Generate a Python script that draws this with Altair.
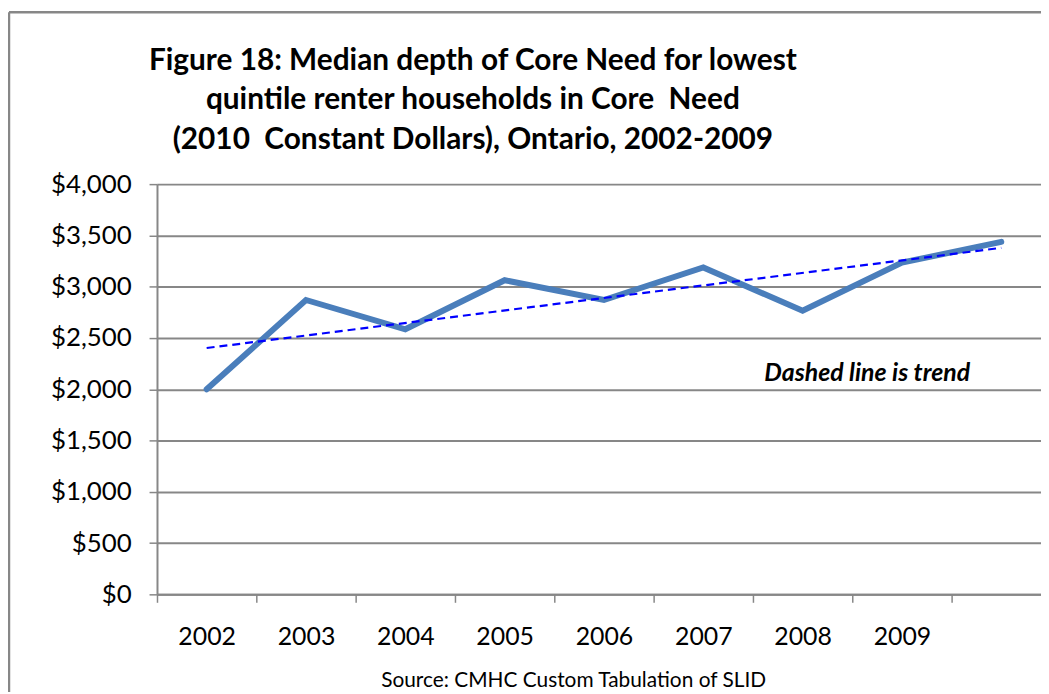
import altair as alt
import pandas as pd

# ---- data ----
years = [2002, 2003, 2004, 2005, 2006, 2007, 2008, 2009, 2010]
depth = [2000, 2870, 2585, 3063, 2870, 3187, 2765, 3234, 3437]
x_tick_values = [2001.5, 2002.5, 2003.5, 2004.5, 2005.5, 2006.5, 2007.5, 2008.5, 2009.5]
y_tick_values = [0, 500, 1000, 1500, 2000, 2500, 3000, 3500, 4000]

title_lines = [
    "Figure 18: Median depth of Core Need for lowest",
    "quintile renter households in Core\u00a0 Need",
    "(2010\u00a0 Constant Dollars), Ontario, 2002-2009",
]
source_text = "Source: CMHC Custom Tabulation of SLID"
note_text = "Dashed line is trend"

df = pd.DataFrame({"year": years, "depth": depth})
one = pd.DataFrame({"k": [0]})

FONT = "Lato"
GRAY = "#878787"

x_enc = alt.X(
    "year:Q",
    scale=alt.Scale(domain=[2001.5, 2010.4], nice=False, zero=False),
    axis=alt.Axis(
        values=x_tick_values,
        labelExpr="datum.value < 2009 ? format(datum.value + 0.5, 'd') : ''",
        labelOffset=50,
        labelOverlap=False,
        labelFlush=False,
        labelFont=FONT,
        labelFontSize=25,
        labelColor="black",
        labelPadding=22,
        tickSize=8,
        tickColor=GRAY,
        tickWidth=1.5,
        domainColor=GRAY,
        domainWidth=2,
        grid=False,
        title=source_text,
        titleFont=FONT,
        titleFontSize=21,
        titleFontWeight="normal",
        titleColor="black",
        titleX=419,
        titleY=93,
        titleAlign="center",
        titleBaseline="alphabetic",
    ),
)

y_enc = alt.Y(
    "depth:Q",
    scale=alt.Scale(domain=[0, 4000], nice=False),
    axis=alt.Axis(
        values=y_tick_values,
        format="$,.0f",
        labelFont=FONT,
        labelFontSize=26,
        labelColor="black",
        labelPadding=18,
        tickSize=8,
        tickColor=GRAY,
        tickWidth=1.5,
        domainColor=GRAY,
        domainWidth=2,
        grid=True,
        gridColor=GRAY,
        gridWidth=2,
        gridOpacity=1,
        title=None,
    ),
)

base = alt.Chart(df)

main_line = base.mark_line(
    color="#4a7ebb", strokeWidth=6, strokeCap="round", strokeJoin="miter"
).encode(x=x_enc, y=y_enc)

trend = base.transform_regression("year", "depth").mark_line(
    color="#0000ff", strokeWidth=2.2, strokeDash=[8, 5]
).encode(x="year:Q", y="depth:Q")

note = alt.Chart(one).mark_text(
    text=note_text,
    font=FONT,
    fontSize=25,
    fontStyle="italic",
    fontWeight="bold",
    align="center",
    baseline="middle",
    color="black",
).encode(x=alt.value(715), y=alt.value(190))

border_left = alt.Chart(one).mark_rule(color=GRAY, strokeWidth=2.5).encode(
    x=alt.value(-149), y=alt.value(-173), y2=alt.value(540)
)
border_top = alt.Chart(one).mark_rule(color=GRAY, strokeWidth=2.5).encode(
    x=alt.value(-149), x2=alt.value(900), y=alt.value(-173)
)

chart = (
    alt.layer(border_left, border_top, main_line, trend, note)
    .properties(
        width=890,
        height=413,
        padding={"left": 150, "top": 175, "right": 0, "bottom": 96},
        autosize=alt.AutoSizeParams(type="none"),
        title=alt.TitleParams(
            text=title_lines,
            font=FONT,
            fontSize=30,
            fontWeight="bold",
            color="black",
            anchor="middle",
            frame="group",
            dx=-127,
            lineHeight=40,
            offset=-145,
        ),
    )
    .configure_view(stroke=None)
    .configure(background="white")
)

chart.save("out.html", embed_options={"renderer": "svg", "actions": False})
